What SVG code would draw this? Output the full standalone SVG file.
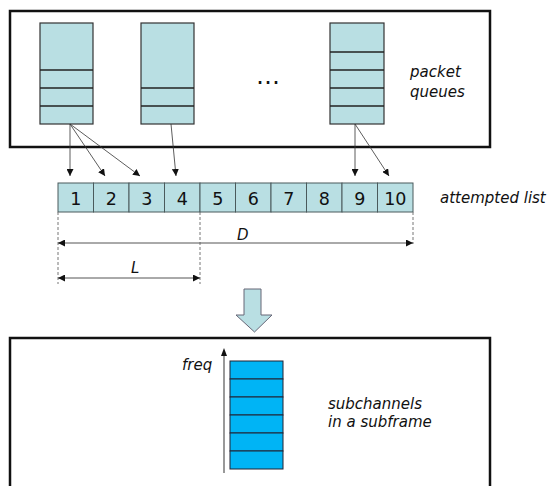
<svg xmlns="http://www.w3.org/2000/svg" width="559" height="486" viewBox="0 0 559 486">
  <defs>
    <marker id="ah" viewBox="0 0 10 10" refX="10" refY="5" markerWidth="7" markerHeight="7" markerUnits="userSpaceOnUse" orient="auto-start-reverse">
      <path d="M0,0 L10,5 L0,10 z" fill="#111"/>
    </marker>
    <style>
      .frame { fill: #fff; stroke: #111; stroke-width: 2.5; }
      .queue { fill: #b9dfe3; stroke: #333; stroke-width: 1.2; }
      .sep { stroke: #222; stroke-width: 1.3; }
      .cell { fill: #b9dfe3; stroke: #4a5a5c; stroke-width: 1; }
      .num { font-family: "DejaVu Sans", sans-serif; font-size: 17.5px; fill: #111; text-anchor: middle; }
      .lab { font-family: "DejaVu Sans", sans-serif; font-style: italic; font-size: 15px; fill: #111; }
      .link { stroke: #333; stroke-width: 0.8; fill: none; marker-end: url(#ah); }
      .dash { stroke: #777; stroke-width: 1; stroke-dasharray: 3 2; fill: none; }
      .dim { stroke: #555; stroke-width: 1; fill: none; marker-start: url(#ah); marker-end: url(#ah); }
      .sub { fill: #00b4f5; stroke: #223; stroke-width: 1; }
    </style>
  </defs>

  <!-- packet queues panel -->
  <g id="queues-panel">
    <rect class="frame" x="10" y="11" width="480" height="136"/>
    <text class="lab" x="410" y="77">packet</text>
    <text class="lab" x="410" y="97">queues</text>
    <text x="256" y="84" font-family="DejaVu Sans, sans-serif" font-size="24" fill="#111">…</text>
  </g>

  <g id="queue-1">
    <rect class="queue" x="40" y="23" width="53" height="101"/>
    <line class="sep" x1="40" y1="70" x2="93" y2="70"/>
    <line class="sep" x1="40" y1="88" x2="93" y2="88"/>
    <line class="sep" x1="40" y1="106" x2="93" y2="106"/>
  </g>
  <g id="queue-2">
    <rect class="queue" x="141" y="23" width="53" height="101"/>
    <line class="sep" x1="141" y1="88" x2="194" y2="88"/>
    <line class="sep" x1="141" y1="106" x2="194" y2="106"/>
  </g>
  <g id="queue-n">
    <rect class="queue" x="330" y="23" width="54" height="101"/>
    <line class="sep" x1="330" y1="52" x2="384" y2="52"/>
    <line class="sep" x1="330" y1="70" x2="384" y2="70"/>
    <line class="sep" x1="330" y1="88" x2="384" y2="88"/>
    <line class="sep" x1="330" y1="106" x2="384" y2="106"/>
  </g>

  <!-- attempted list -->
  <g id="attempted-list">
    <rect class="cell" x="58" y="183" width="35.5" height="29"/>
    <rect class="cell" x="93.5" y="183" width="35.5" height="29"/>
    <rect class="cell" x="129" y="183" width="35.5" height="29"/>
    <rect class="cell" x="164.5" y="183" width="35.5" height="29"/>
    <rect class="cell" x="200" y="183" width="35.5" height="29"/>
    <rect class="cell" x="235.5" y="183" width="35.5" height="29"/>
    <rect class="cell" x="271" y="183" width="35.5" height="29"/>
    <rect class="cell" x="306.5" y="183" width="35.5" height="29"/>
    <rect class="cell" x="342" y="183" width="35.5" height="29"/>
    <rect class="cell" x="377.5" y="183" width="35.5" height="29"/>
    <text class="num" x="75.8" y="204.5">1</text>
    <text class="num" x="111.3" y="204.5">2</text>
    <text class="num" x="146.8" y="204.5">3</text>
    <text class="num" x="182.3" y="204.5">4</text>
    <text class="num" x="217.8" y="204.5">5</text>
    <text class="num" x="253.3" y="204.5">6</text>
    <text class="num" x="288.8" y="204.5">7</text>
    <text class="num" x="324.3" y="204.5">8</text>
    <text class="num" x="359.8" y="204.5">9</text>
    <text class="num" x="395.3" y="204.5">10</text>
    <text class="lab" x="440" y="203" font-size="16.5">attempted list</text>
  </g>

  <!-- connectors from queues to list -->
  <g id="connectors">
    <line class="link" x1="70" y1="124" x2="70" y2="176" stroke-width="1.5"/>
    <line class="link" x1="70" y1="124" x2="105" y2="176"/>
    <line class="link" x1="70" y1="124" x2="140" y2="176"/>
    <line class="link" x1="171" y1="124" x2="176" y2="176"/>
    <line class="link" x1="355" y1="124" x2="355" y2="176" stroke-width="1.2"/>
    <line class="link" x1="355" y1="124" x2="389" y2="176"/>
  </g>

  <!-- D and L dimensions -->
  <g id="dimensions">
    <line class="dash" x1="58" y1="212" x2="58" y2="284"/>
    <line class="dash" x1="200" y1="212" x2="200" y2="284"/>
    <line class="dash" x1="413" y1="212" x2="413" y2="244"/>
    <line class="dim" x1="58" y1="243" x2="413" y2="243"/>
    <line class="dim" x1="58" y1="278" x2="200" y2="278"/>
    <text class="lab" x="237" y="240" font-size="17">D</text>
    <text class="lab" x="131" y="273" font-size="17">L</text>
  </g>

  <!-- transition arrow -->
  <g id="down-arrow">
    <path d="M244,289 L261,289 L261,315 L272,315 L254.5,332 L236,315 L244,315 Z" fill="#b9dfe3" stroke="#667" stroke-width="1"/>
  </g>

  <!-- subframe panel -->
  <g id="subframe-panel">
    <rect class="frame" x="10" y="338" width="480" height="160"/>
    <line x1="224" y1="473" x2="224" y2="352" stroke="#555" stroke-width="1.2"/>
    <path d="M221,356 L224,348 L227,356 Z" fill="#111"/>
    <text class="lab" x="182" y="370" font-size="14">freq</text>
    <text class="lab" x="328" y="409" font-size="13.7">subchannels</text>
    <text class="lab" x="328" y="427" font-size="13.7">in a subframe</text>
  </g>
  <g id="subchannels">
    <rect class="sub" x="230" y="361" width="53" height="18"/>
    <rect class="sub" x="230" y="379" width="53" height="18"/>
    <rect class="sub" x="230" y="397" width="53" height="18"/>
    <rect class="sub" x="230" y="415" width="53" height="18"/>
    <rect class="sub" x="230" y="433" width="53" height="18"/>
    <rect class="sub" x="230" y="451" width="53" height="18"/>
  </g>
</svg>
